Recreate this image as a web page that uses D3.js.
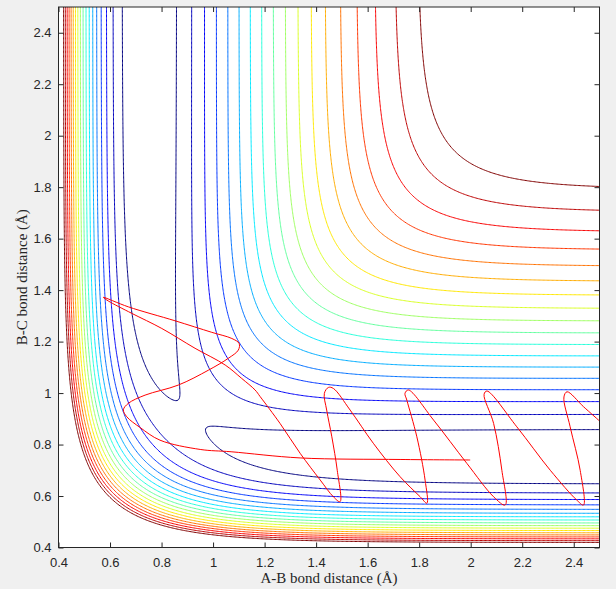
<!DOCTYPE html>
<html>
<head>
<meta charset="utf-8">
<script src="https://cdn.jsdelivr.net/npm/d3@7"></script>
<style>
  body { margin: 0; background: #f0f0f0; }
  svg { display: block; }
</style>
</head>
<body>
<script>
// LEPS surface for A + BC (H3): Morse D (eV), beta (1/Å), re (Å), Sato parameter
const morse = [4.746, 1.942, 0.742];
const sato = [0.186];

// contour levels (eV), 18 lines coloured with jet
const levels = [-4.55, -4.35, -4.15, -3.95, -3.75, -3.55, -3.35, -3.15, -2.95,
                -2.75, -2.55, -2.35, -2.15, -1.95, -1.75, -1.55, -1.35, -1.15];

const ticks = [0.4, 0.6, 0.8, 1, 1.2, 1.4, 1.6, 1.8, 2, 2.2, 2.4];

// trajectory (A-B, B-C)
const trajAB = [1.998, 1.726, 1.338, 1.07, 0.95, 0.794, 0.717, 0.665, 0.652, 0.671,
  0.736, 0.865, 0.982, 1.059, 1.098, 1.101, 1.073, 0.995, 0.852, 0.671,
  0.574, 0.593, 0.684, 0.801, 0.93, 1.047, 1.111, 1.163, 1.183, 1.26,
  1.338, 1.416, 1.467, 1.493, 1.482, 1.461, 1.441, 1.432, 1.448, 1.467,
  1.532, 1.622, 1.726, 1.804, 1.83, 1.823, 1.791, 1.752, 1.745, 1.758,
  1.856, 1.985, 2.089, 2.134, 2.121, 2.089, 2.052, 2.063, 2.179, 2.309,
  2.412, 2.438, 2.425, 2.386, 2.362, 2.374, 2.438, 2.503];
const trajBC = [0.74, 0.742, 0.748, 0.772, 0.781, 0.817, 0.866, 0.908, 0.935, 0.96,
  0.992, 1.031, 1.089, 1.135, 1.167, 1.193, 1.212, 1.236, 1.281, 1.335,
  1.372, 1.358, 1.31, 1.251, 1.174, 1.109, 1.057, 1.012, 0.986, 0.882,
  0.766, 0.662, 0.597, 0.578, 0.7, 0.83, 0.934, 0.999, 1.022, 1.018,
  0.934, 0.805, 0.675, 0.597, 0.572, 0.662, 0.83, 0.973, 0.999, 1.012,
  0.895, 0.727, 0.597, 0.565, 0.7, 0.882, 0.995, 1.008, 0.869, 0.7,
  0.584, 0.565, 0.7, 0.869, 0.985, 1.005, 0.947, 0.889];

const W = 616, H = 589;
const box = { left: 58.5, top: 7, right: 599.5, bottom: 547.5 };
const ink = "#262626";

const x = d3.scaleLinear().domain([0.4, 2.5]).range([box.left, box.right]);
const y = d3.scaleLinear().domain([0.4, 2.5]).range([box.bottom, box.top]);

function jet(t) {
  const c = v => Math.max(0, Math.min(1, v));
  const r = c(Math.min(4 * t - 1.5, -4 * t + 4.5));
  const g = c(Math.min(4 * t - 0.5, -4 * t + 3.5));
  const b = c(Math.min(4 * t + 0.5, -4 * t + 2.5));
  return d3.rgb(r * 255, g * 255, b * 255).formatHex();
}

function pair(r) {
  const [D, a, re] = morse, k = sato[0];
  const e = Math.exp(-a * (r - re));
  const Q = D / 4 * ((3 + k) * e * e - (2 + 6 * k) * e);
  const J = D / 4 * ((1 + 3 * k) * e * e - (6 + 2 * k) * e);
  return [Q, J];
}

function leps(rab, rbc) {
  const [q1, j1] = pair(rab), [q2, j2] = pair(rbc), [q3, j3] = pair(rab + rbc);
  const s = Math.sqrt(0.5 * ((j1 - j2) ** 2 + (j2 - j3) ** 2 + (j3 - j1) ** 2));
  return (q1 + q2 + q3 - s) / (1 + sato[0]);
}

// grid a bit wider than the axes so the ring borders fall outside the clip
const g0 = 0.34, step = 0.005;
const n = Math.round((2.56 - g0) / step) + 1;
const values = new Float64Array(n * n);
for (let j = 0; j < n; j++) {
  for (let i = 0; i < n; i++) {
    values[j * n + i] = leps(g0 + i * step, g0 + j * step);
  }
}

const contours = d3.contours().size([n, n]).thresholds(levels)(values);
const proj = d3.geoTransform({
  point(px, py) {
    this.stream.point(x(g0 + (px - 0.5) * step), y(g0 + (py - 0.5) * step));
  }
});
const path = d3.geoPath(proj);

const svg = d3.select("body").append("svg")
    .attr("width", W)
    .attr("height", H);

svg.append("defs").append("clipPath")
    .attr("id", "plot")
  .append("rect")
    .attr("x", box.left)
    .attr("y", box.top)
    .attr("width", box.right - box.left)
    .attr("height", box.bottom - box.top);

svg.append("rect")
    .attr("x", box.left)
    .attr("y", box.top)
    .attr("width", box.right - box.left)
    .attr("height", box.bottom - box.top)
    .attr("fill", "white");

const plot = svg.append("g").attr("clip-path", "url(#plot)");

plot.selectAll("path.contour")
  .data(contours)
  .enter().append("path")
    .attr("class", "contour")
    .attr("d", path)
    .attr("fill", "none")
    .attr("stroke", (d, k) => jet(k / (levels.length - 1)))
    .attr("stroke-width", 1);

const line = d3.line()
    .x(d => x(d[0]))
    .y(d => y(d[1]))
    .curve(d3.curveCatmullRom.alpha(0.5));

plot.append("path")
    .datum(trajAB.map((v, i) => [v, trajBC[i]]))
    .attr("d", line)
    .attr("fill", "none")
    .attr("stroke", "#ff0000")
    .attr("stroke-width", 1);

// axes, MATLAB style: box, inward ticks on all four sides
const fmt = d => String(+d.toFixed(1));
const tickLen = 5;

svg.append("g")
    .attr("transform", `translate(0,${box.bottom})`)
    .call(d3.axisBottom(x).tickValues(ticks).tickFormat(fmt).tickSizeInner(-tickLen).tickSizeOuter(0).tickPadding(10));
svg.append("g")
    .attr("transform", `translate(0,${box.top})`)
    .call(d3.axisTop(x).tickValues(ticks).tickFormat("").tickSizeInner(-tickLen).tickSizeOuter(0));
svg.append("g")
    .attr("transform", `translate(${box.left},0)`)
    .call(d3.axisLeft(y).tickValues(ticks).tickFormat(fmt).tickSizeInner(-tickLen).tickSizeOuter(0).tickPadding(7));
svg.append("g")
    .attr("transform", `translate(${box.right},0)`)
    .call(d3.axisRight(y).tickValues(ticks).tickFormat("").tickSizeInner(-tickLen).tickSizeOuter(0));

svg.selectAll(".domain").remove();
svg.selectAll(".tick line").attr("stroke", ink);
svg.selectAll(".tick text")
    .attr("fill", ink)
    .style("font-family", "'Liberation Sans', Arial, sans-serif")
    .style("font-size", "13px");

svg.append("rect")
    .attr("x", box.left)
    .attr("y", box.top)
    .attr("width", box.right - box.left)
    .attr("height", box.bottom - box.top)
    .attr("fill", "none")
    .attr("stroke", ink)
    .attr("stroke-width", 1);

svg.append("text")
    .attr("x", (box.left + box.right) / 2)
    .attr("y", 583)
    .attr("text-anchor", "middle")
    .attr("fill", ink)
    .style("font-family", "'Liberation Serif', 'DejaVu Serif', serif")
    .style("font-size", "15px")
    .text("A-B bond distance (Å)");

svg.append("text")
    .attr("transform", `translate(26.5,${(box.top + box.bottom) / 2}) rotate(-90)`)
    .attr("text-anchor", "middle")
    .attr("fill", ink)
    .style("font-family", "'Liberation Serif', 'DejaVu Serif', serif")
    .style("font-size", "15px")
    .text("B-C bond distance (Å)");
</script>
</body>
</html>
